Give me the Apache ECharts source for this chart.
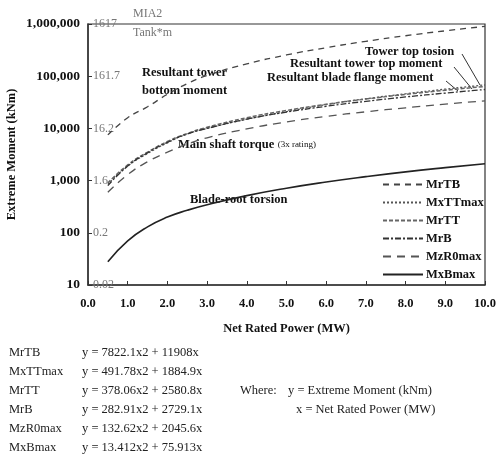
<!DOCTYPE html>
<html><head><meta charset="utf-8">
<script src="https://cdn.jsdelivr.net/npm/echarts@6/dist/echarts.min.js"></script>
<style>html,body{margin:0;padding:0;background:#fff}#c{width:496px;height:457px}</style>
</head><body><div id="c"></div>
<script>
// Net rated power (MW)
const power = [0.5, 1, 1.5, 2, 2.5, 3, 4, 5, 6, 7, 8, 9, 10];
// Extreme moments (kNm)
const MrTB    = [7500, 16000, 26000, 45000, 72000, 103000, 172000, 255000, 352000, 466000, 596000, 740000, 900000];
const MxTTmax = [850, 1900, 3300, 5300, 7800, 10000, 15000, 21000, 28500, 37000, 46000, 56500, 68000];
const MrTT    = [900, 2000, 3500, 5600, 8000, 10500, 16000, 22000, 29000, 36500, 44800, 53800, 63600];
const MrB     = [800, 1900, 3400, 5400, 7800, 10000, 15000, 20500, 26500, 33000, 40000, 47500, 55600];
const MzR0max = [600, 1300, 2300, 3500, 5000, 6600, 9800, 13300, 17000, 20800, 24800, 29200, 33700];
const MxBmax  = [28, 70, 130, 200, 270, 345, 515, 715, 940, 1190, 1470, 1770, 2100];
const seriesNames = ['MrTB', 'MxTTmax', 'MrTT', 'MrB', 'MzR0max', 'MxBmax'];
// secondary (MIA2 Tank*m) tick labels, bottom (10) to top (1,000,000)
const tankLabels = ['0.02', '0.2', '1.6', '16.2', '161.7', '1617'];
const equations = [
  ['MrTB', 'y = 7822.1x2 + 11908x'],
  ['MxTTmax', 'y = 491.78x2 + 1884.9x'],
  ['MrTT', 'y = 378.06x2 + 2580.8x'],
  ['MrB', 'y = 282.91x2 + 2729.1x'],
  ['MzR0max', 'y = 132.62x2 + 2045.6x'],
  ['MxBmax', 'y = 13.412x2 + 75.913x']
];

const F = 'Liberation Serif, Times New Roman, serif';
const values = [MrTB, MxTTmax, MrTT, MrB, MzR0max, MxBmax];
const styles = [
  {color: '#444', type: [6, 5], width: 1.3},
  {color: '#555', type: [2, 2], width: 1.3},
  {color: '#666', type: [4, 2], width: 1.5},
  {color: '#333', type: [6, 2, 2, 2], width: 1.3},
  {color: '#555', type: [8, 6], width: 1.3},
  {color: '#222', type: 'solid', width: 1.6}
];

const chart = echarts.init(document.getElementById('c'));
const graphics = [
  {type: 'text', left: 133, top: 8, style: {text: 'MIA2', font: '12px ' + F, fill: '#777'}},
  {type: 'text', left: 133, top: 27, style: {text: 'Tank*m', font: '12px ' + F, fill: '#777'}},
  {type: 'text', left: 142, top: 64, style: {text: 'Resultant tower\nbottom moment', font: 'bold 12.5px ' + F, fill: '#111', lineHeight: 18}},
  {type: 'text', left: 365, top: 45, style: {text: 'Tower top tosion', font: 'bold 12.5px ' + F, fill: '#111'}},
  {type: 'text', left: 290, top: 57, style: {text: 'Resultant tower top moment', font: 'bold 12.5px ' + F, fill: '#111'}},
  {type: 'text', left: 267, top: 71, style: {text: 'Resultant blade flange moment', font: 'bold 12.5px ' + F, fill: '#111'}},
  {type: 'line', shape: {x1: 462, y1: 54, x2: 480, y2: 85}, style: {stroke: '#333', lineWidth: 1}},
  {type: 'line', shape: {x1: 454, y1: 67, x2: 472, y2: 89}, style: {stroke: '#333', lineWidth: 1}},
  {type: 'line', shape: {x1: 446, y1: 81, x2: 458, y2: 91}, style: {stroke: '#333', lineWidth: 1}},
  {type: 'text', left: 178, top: 138, style: {
    text: '{a|Main shaft torque} {b|(3x rating)}',
    rich: {a: {font: 'bold 12.5px ' + F, fill: '#111'}, b: {font: '9px ' + F, fill: '#111'}}}},
  {type: 'text', left: 190, top: 193, style: {text: 'Blade-root torsion', font: 'bold 12.5px ' + F, fill: '#111'}}
];
equations.forEach((e, i) => {
  graphics.push({type: 'text', left: 9, top: 346 + i * 19, style: {text: e[0], font: '12.5px ' + F, fill: '#222'}});
  graphics.push({type: 'text', left: 82, top: 346 + i * 19, style: {text: e[1], font: '12.5px ' + F, fill: '#222'}});
});
graphics.push({type: 'text', left: 240, top: 384, style: {text: 'Where:', font: '12.5px ' + F, fill: '#222'}});
graphics.push({type: 'text', left: 288, top: 384, style: {text: 'y = Extreme Moment (kNm)', font: '12.5px ' + F, fill: '#222'}});
graphics.push({type: 'text', left: 296, top: 403, style: {text: 'x = Net Rated Power (MW)', font: '12.5px ' + F, fill: '#222'}});

chart.setOption({
  animation: false,
  backgroundColor: '#fff',
  textStyle: {fontFamily: F},
  grid: {left: 88, right: 11, top: 24, bottom: 172, show: true, borderColor: '#333', borderWidth: 1.2,
    containLabel: false, outerBoundsMode: 'none'},
  legend: {
    orient: 'vertical', left: 377, top: 173, itemGap: 5, itemWidth: 40, itemHeight: 8,
    itemStyle: {opacity: 0},
    textStyle: {fontFamily: F, fontSize: 12.5, fontWeight: 'bold', color: '#111', padding: [0, 0, 0, -2]},
    data: seriesNames
  },
  xAxis: {
    type: 'value', min: 0, max: 10, interval: 1,
    name: 'Net Rated Power (MW)', nameLocation: 'middle', nameGap: 37, nameMoveOverlap: false,
    nameTextStyle: {fontFamily: F, fontSize: 12.5, fontWeight: 'bold', color: '#111'},
    axisLine: {lineStyle: {color: '#333', width: 1.5}},
    axisTick: {inside: true, length: 4, lineStyle: {color: '#333'}},
    axisLabel: {formatter: v => v.toFixed(1), fontFamily: F, fontSize: 12.5, fontWeight: 'bold', color: '#111', margin: 12},
    splitLine: {show: false}
  },
  yAxis: [{
    type: 'log', min: 10, max: 1000000, logBase: 10,
    name: 'Extreme Moment (kNm)', nameLocation: 'middle', nameGap: 70, nameMoveOverlap: false,
    nameTextStyle: {fontFamily: F, fontSize: 12.5, fontWeight: 'bold', color: '#111'},
    axisLine: {lineStyle: {color: '#333', width: 1.5}},
    axisTick: {inside: true, length: 4, lineStyle: {color: '#333'}},
    axisLabel: {formatter: v => Math.round(v).toLocaleString('en-US'), fontFamily: F, fontSize: 13.5, fontWeight: 'bold', color: '#111', margin: 8},
    splitLine: {show: false}
  }, {
    type: 'log', min: 10, max: 1000000, logBase: 10, position: 'left', offset: 0,
    axisLine: {show: false}, axisTick: {show: false}, splitLine: {show: false},
    axisLabel: {inside: true, margin: 5, fontFamily: F, fontSize: 12, color: '#777',
      formatter: v => tankLabels[Math.round(Math.log10(v)) - 1] || ''}
  }],
  graphic: graphics,
  series: seriesNames.map((n, i) => ({
    name: n, type: 'line', smooth: true, symbol: 'none', yAxisIndex: 0,
    lineStyle: styles[i], itemStyle: {color: styles[i].color},
    data: power.map((p, k) => [p, values[i][k]])
  }))
});
</script></body></html>
